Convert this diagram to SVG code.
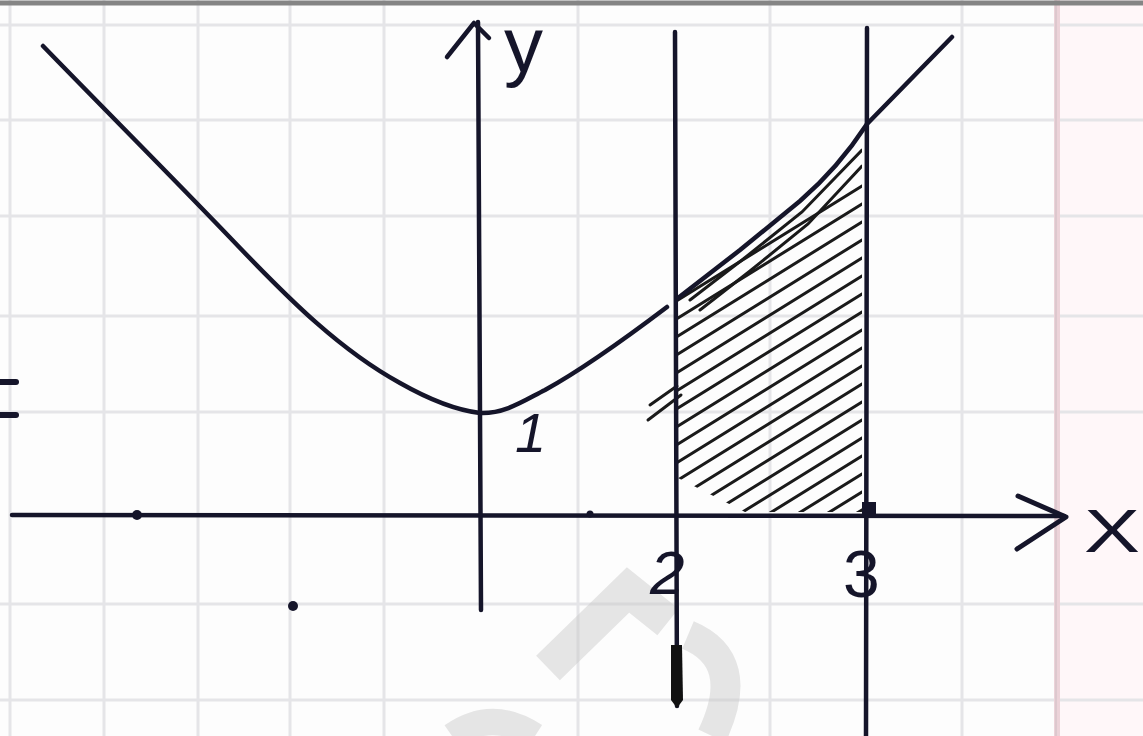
<svg xmlns="http://www.w3.org/2000/svg" width="1143" height="736" viewBox="0 0 1143 736">
  <style>
    .grid { stroke: #e5e5e8; stroke-width: 3; fill: none; }
    .ink { stroke: #15152a; stroke-linecap: round; stroke-linejoin: round; fill: none; }
    .hatch { stroke: #1a1a1a; stroke-width: 3; stroke-linecap: round; fill: none; }
    .lbl { font-family: "Liberation Sans", Arial, sans-serif; fill: #15152a; }
    .wm { stroke: #c8c8c8; fill: none; stroke-linecap: butt; opacity: 0.45; }
  </style>
  <defs>
    <clipPath id="region">
      <path d="M678,298 L740,250 L800,201 L862,136 L862,512 L745,512 L678,478 Z"/>
    </clipPath>
  </defs>

  <rect width="1143" height="736" fill="#fdfdfd"/>
  <rect x="1057" y="0" width="86" height="736" fill="#fff7f9"/>

  <!-- grid -->
  <g id="grid">
    <line class="grid" x1="0" y1="25" x2="1143" y2="25"/>
    <line class="grid" x1="0" y1="120" x2="1143" y2="120"/>
    <line class="grid" x1="0" y1="216" x2="1143" y2="216"/>
    <line class="grid" x1="0" y1="316" x2="1143" y2="316"/>
    <line class="grid" x1="0" y1="412" x2="1143" y2="412"/>
    <line class="grid" x1="0" y1="604" x2="1143" y2="604"/>
    <line class="grid" x1="0" y1="700" x2="1143" y2="700"/>
    <line class="grid" x1="10" y1="0" x2="10" y2="736"/>
    <line class="grid" x1="104" y1="0" x2="104" y2="736"/>
    <line class="grid" x1="198" y1="0" x2="198" y2="736"/>
    <line class="grid" x1="290" y1="0" x2="290" y2="736"/>
    <line class="grid" x1="384" y1="0" x2="384" y2="736"/>
    <line class="grid" x1="578" y1="0" x2="578" y2="736"/>
    <line class="grid" x1="770" y1="0" x2="770" y2="736"/>
    <line class="grid" x1="962" y1="0" x2="962" y2="736"/>
    <line x1="1057" y1="0" x2="1057" y2="736" stroke="#ecd3d9" stroke-width="6"/>
    <line x1="1056" y1="0" x2="1056" y2="736" stroke="#d9c4ca" stroke-width="1.5"/>
  </g>

  <!-- scan edge at top -->
  <line x1="0" y1="3" x2="1143" y2="3" stroke="#858585" stroke-width="5"/>

  <!-- watermark -->
  <g id="watermark">
    <path class="wm" stroke-width="34" d="M548,668 L628,590 L668,622"/>
    <path class="wm" stroke-width="30" d="M688,635 Q748,660 712,736"/>
    <path class="wm" stroke-width="26" d="M452,736 Q492,708 535,736"/>
  </g>

  <!-- hatching -->
  <g id="hatching" clip-path="url(#region)">
    <line class="hatch" x1="670" y1="305" x2="870" y2="181"/>
    <line class="hatch" x1="670" y1="323" x2="870" y2="199"/>
    <line class="hatch" x1="670" y1="341" x2="870" y2="217"/>
    <line class="hatch" x1="670" y1="359" x2="870" y2="235"/>
    <line class="hatch" x1="670" y1="377" x2="870" y2="253"/>
    <line class="hatch" x1="670" y1="395" x2="870" y2="271"/>
    <line class="hatch" x1="670" y1="413" x2="870" y2="289"/>
    <line class="hatch" x1="670" y1="431" x2="870" y2="307"/>
    <line class="hatch" x1="670" y1="449" x2="870" y2="325"/>
    <line class="hatch" x1="670" y1="467" x2="870" y2="343"/>
    <line class="hatch" x1="670" y1="485" x2="870" y2="361"/>
    <line class="hatch" x1="670" y1="503" x2="870" y2="379"/>
    <line class="hatch" x1="670" y1="521" x2="870" y2="397"/>
    <line class="hatch" x1="670" y1="539" x2="870" y2="415"/>
    <line class="hatch" x1="670" y1="557" x2="870" y2="433"/>
    <line class="hatch" x1="670" y1="575" x2="870" y2="451"/>
    <line class="hatch" x1="670" y1="593" x2="870" y2="469"/>
    <line class="hatch" x1="670" y1="611" x2="870" y2="487"/>
    <line class="hatch" x1="670" y1="629" x2="870" y2="505"/>
    <line class="hatch" x1="670" y1="647" x2="870" y2="523"/>
    <path class="hatch" d="M690,300 L742,260 L802,212 L862,150"/>
    <path class="hatch" d="M700,310 L750,271 L808,224 L862,166"/>
  </g>
  <path class="hatch" d="M648,420 L681,395 M650,405 L677,386"/>

  <!-- axes and vertical lines -->
  <g id="axes">
    <line class="ink" stroke-width="4.5" x1="12" y1="515" x2="1064" y2="516"/>
    <path class="ink" stroke-width="5" d="M1018,496 L1066,517 L1017,549"/>
    <line class="ink" stroke-width="4.5" x1="478" y1="22" x2="481" y2="610"/>
    <path class="ink" stroke-width="4.5" d="M447,57 L474,23 L489,38"/>
    <line class="ink" stroke-width="4.5" stroke="#111" x1="675" y1="32" x2="677" y2="706"/>
    <path fill="#111" d="M671,645 L682,645 L683,700 L677,708 L671,700 Z"/>
    <line class="ink" stroke-width="4.5" stroke="#111" x1="867" y1="28" x2="866" y2="736"/>
    <rect x="862" y="502" width="14" height="15" fill="#15152a"/>
    <circle cx="137" cy="515" r="5" fill="#15152a"/>
    <circle cx="293" cy="606" r="5" fill="#15152a"/>
    <circle cx="590" cy="514" r="3.5" fill="#15152a"/>
    <line class="ink" stroke-width="6" x1="0" y1="382" x2="16" y2="382"/>
    <line class="ink" stroke-width="6" x1="0" y1="415" x2="16" y2="415"/>
  </g>

  <!-- curve -->
  <g id="curve">
    <path class="ink" stroke-width="4.5" d="M43,46 C110,115 180,185 240,248 C290,300 340,350 400,383 C430,400 455,410 480,413 C505,414 525,400 545,390 C585,368 630,335 667,307"/>
    <path class="ink" stroke-width="4.5" stroke="#111" d="M678,298 L740,250 L800,201 C830,175 850,150 867,124 L952,37"/>
  </g>

  <!-- labels -->
  <g id="labels">
    <text class="lbl" x="504" y="72" font-size="78">y</text>
    <text class="lbl" x="1084" y="552" font-size="62" textLength="56" lengthAdjust="spacingAndGlyphs">X</text>
    <text class="lbl" x="515" y="452" font-size="56" font-style="italic">1</text>
    <text class="lbl" x="650" y="594" font-size="62" font-style="italic">2</text>
    <text class="lbl" x="843" y="597" font-size="66">3</text>
  </g>
</svg>
